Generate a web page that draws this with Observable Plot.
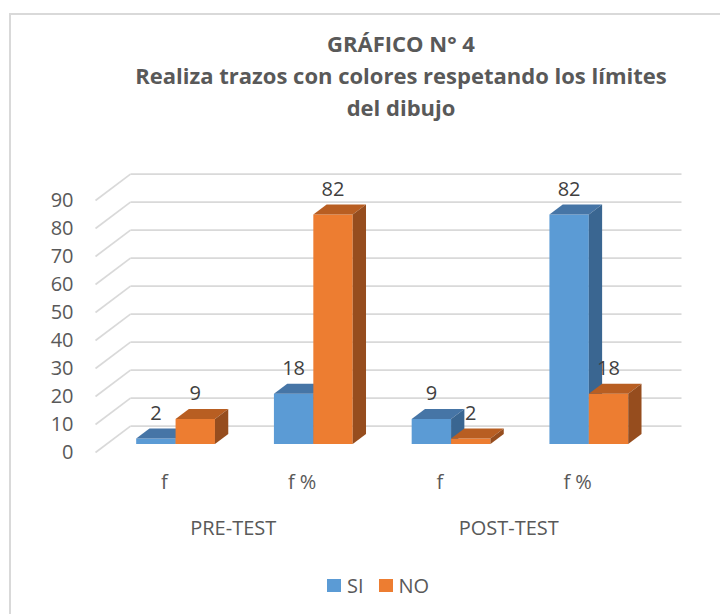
<!DOCTYPE html>
<html>
<head>
<meta charset="utf-8">
<script src="https://cdn.jsdelivr.net/npm/d3@7"></script>
<script src="https://cdn.jsdelivr.net/npm/@observablehq/plot@0.6"></script>
<style>
  html, body { margin: 0; padding: 0; background: #fff; overflow: hidden; }
  #wrap { position: relative; width: 720px; height: 614px; overflow: hidden; font-family: "Open Sans", sans-serif; }
  #frame { position: absolute; left: 9px; top: 13px; width: 900px; height: 900px; border: 2px solid #d9d9d9; box-sizing: border-box; }
  #title { position: absolute; left: 101px; width: 600px; top: 27px; text-align: center; font-weight: 700; font-size: 22px; line-height: 32px; color: #595959; }
  #chart { position: absolute; left: 0; top: 140px; }
  #legend { position: absolute; top: 572px; left: 327px; display: flex; align-items: center; font-size: 20px; color: #595959; }
  .sw { width: 14px; height: 13px; display: inline-block; margin-right: 6px; }
  .item { display: flex; align-items: center; margin-right: 15px; }
</style>
</head>
<body>
<div id="wrap">
  <div id="frame"></div>
  <div id="title">GRÁFICO N° 4<br>Realiza trazos con colores respetando los límites<br>del dibujo</div>
  <div id="chart"></div>
  <div id="legend"></div>
</div>
<script>
// ---- data ----
const groups = ["PRE-TEST", "POST-TEST"];
const categories = ["f", "f %", "f", "f %"];
const seriesNames = ["SI", "NO"];
const siValues = [2, 18, 9, 82];
const noValues = [9, 82, 2, 18];
const yTicks = [0, 10, 20, 30, 40, 50, 60, 70, 80, 90];

// ---- styling ----
const seriesColors = {
  SI: {front: "#5b9bd5", top: "#4675a6", side: "#3a6691"},
  NO: {front: "#ed7d31", top: "#b85e22", side: "#964d1e"}
};

// 3D geometry (in data units)
const DX = 0.254, DY = 9.4;     // depth offset of the walls
const D0 = 0.32, D1 = 0.70;     // bar depth range
const W = 0.286;                // bar width (category units)

const seriesValues = [siValues, noValues];

// Build polygons for bars
const polys = [];
const labels = [];
categories.forEach((c, i) => {
  seriesNames.forEach((s, k) => {
    const v = seriesValues[k][i];
    const x0 = i + 0.5 + (k === 0 ? -W : 0);
    const x1 = x0 + W;
    const col = seriesColors[s];
    const id = `${i}-${s}`;
    const front = [[x0 + D0*DX, D0*DY], [x1 + D0*DX, D0*DY], [x1 + D0*DX, v + D0*DY], [x0 + D0*DX, v + D0*DY]];
    const top = [[x0 + D0*DX, v + D0*DY], [x1 + D0*DX, v + D0*DY], [x1 + D1*DX, v + D1*DY], [x0 + D1*DX, v + D1*DY]];
    const side = [[x1 + D0*DX, D0*DY], [x1 + D1*DX, D1*DY], [x1 + D1*DX, v + D1*DY], [x1 + D0*DX, v + D0*DY]];
    for (const [name, pts] of [["front", front], ["top", top], ["side", side]]) {
      pts.forEach(([x, y]) => polys.push({id: id + name, x, y, fill: col[name]}));
    }
    labels.push({x: (x0 + x1) / 2 + D0*DX, y: v + D0*DY, text: String(v)});
  });
});

const backLines = yTicks.map(t => ({x1: DX, y1: t + DY, x2: categories.length + DX, y2: t + DY}));
const sideLines = yTicks.map(t => ({x1: 0, y1: t, x2: DX, y2: t + DY}));
const catLabels = categories.map((c, i) => ({x: i + 0.5, text: c}));
const groupLabels = groups.map((g, j) => ({x: 2*j + 1, text: g}));

const plot = Plot.plot({
  width: 720,
  height: 420,
  marginLeft: 95,
  marginRight: 74,
  marginTop: 60,
  marginBottom: 108,
  style: {fontFamily: "Open Sans, sans-serif", fontSize: "20px", color: "#595959", background: "transparent", overflow: "visible"},
  x: {domain: [0, categories.length], axis: null},
  y: {domain: [0, 90]},
  color: {type: "identity"},
  marks: [
    Plot.link(backLines, {x1: "x1", y1: "y1", x2: "x2", y2: "y2", stroke: "#d9d9d9", strokeWidth: 1.7}),
    Plot.link(sideLines, {x1: "x1", y1: "y1", x2: "x2", y2: "y2", stroke: "#d9d9d9", strokeWidth: 1.7}),
    Plot.axisY({ticks: yTicks, tickSize: 0, tickPadding: 22, label: null, fill: "#595959"}),
    Plot.line(polys, {x: "x", y: "y", z: "id", fill: "fill", stroke: "none"}),
    Plot.text(labels, {x: "x", y: "y", text: "text", dy: -25, fill: "#404040"}),
    Plot.text(catLabels, {x: "x", y: () => 0, text: "text", dy: 30, fill: "#595959"}),
    Plot.text(groupLabels, {x: "x", y: () => 0, text: "text", dy: 76, fill: "#595959"})
  ]
});
document.getElementById("chart").appendChild(plot);

const legend = document.getElementById("legend");
seriesNames.forEach(s => {
  const item = document.createElement("div");
  item.className = "item";
  const sw = document.createElement("span");
  sw.className = "sw";
  sw.style.background = seriesColors[s].front;
  const t = document.createElement("span");
  t.textContent = s;
  item.appendChild(sw);
  item.appendChild(t);
  legend.appendChild(item);
});
</script>
</body>
</html>
